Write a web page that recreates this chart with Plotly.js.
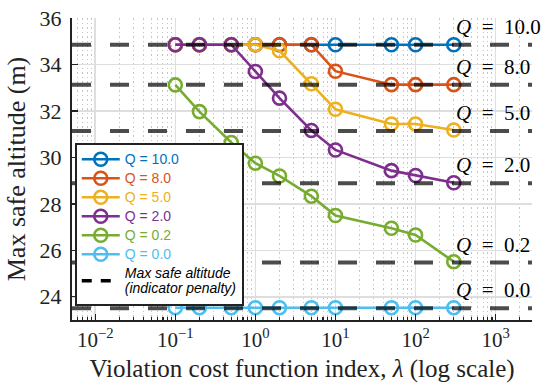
<!DOCTYPE html>
<html>
<head>
<meta charset="utf-8">
<script src="https://cdn.plot.ly/plotly-3.0.1.min.js"></script>
<style>html,body{margin:0;padding:0;background:#fff;} #chart{width:548px;height:383px;}</style>
</head>
<body>
<div id="chart"></div>
<script>
// ---- data ----
const lambda = [0.1, 0.2, 0.5, 1, 2, 5, 10, 50, 100, 300];
const qLabels = ['10.0', '8.0', '5.0', '2.0', '0.2', '0.0'];
const alt_Q10 = [34.85, 34.85, 34.85, 34.85, 34.85, 34.85, 34.85, 34.85, 34.85, 34.85];
const alt_Q8  = [34.85, 34.85, 34.85, 34.85, 34.85, 34.85, 33.71, 33.13, 33.13, 33.13];
const alt_Q5  = [34.85, 34.85, 34.85, 34.85, 34.59, 33.17, 32.07, 31.44, 31.44, 31.18];
const alt_Q2  = [34.85, 34.85, 34.85, 33.70, 32.55, 31.16, 30.32, 29.43, 29.22, 28.91];
const alt_Q02 = [33.12, 31.97, 30.64, 29.75, 29.20, 28.33, 27.50, 26.95, 26.66, 25.51];
const alt_Q0  = [23.53, 23.53, 23.53, 23.53, 23.53, 23.53, 23.53, 23.53, 23.53, 23.53];
const maxSafeAlt = [34.85, 33.13, 31.14, 28.89, 25.47, 23.51];
const xTickVals = [0.01, 0.1, 1, 10, 100, 1000];
const xTickText = ['10<sup>\u22122</sup>', '10<sup>\u22121</sup>', '10<sup>0</sup>', '10<sup>1</sup>', '10<sup>2</sup>', '10<sup>3</sup>'];
const legendNoteLines = ['Max safe altitude', '(indicator penalty)'];

const series = [alt_Q10, alt_Q8, alt_Q5, alt_Q2, alt_Q02, alt_Q0];
const colors = ['#0072BD', '#D95319', '#EDB120', '#7E2F8E', '#77AC30', '#4DBEEE'];
const SERIF = '"Liberation Serif", "DejaVu Serif", serif';

const traces = series.map((ys, i) => ({
  x: lambda, y: ys, type: 'scatter', mode: 'lines+markers',
  name: '<span style="color:' + colors[i] + ';font-size:14px">Q = ' + qLabels[i] + '</span>',
  line: {color: colors[i], width: 2.6},
  marker: {symbol: 'circle-open', size: 13, color: colors[i], line: {width: 2.6, color: colors[i]}}
}));
traces.push({
  x: [null], y: [null], type: 'scatter', mode: 'lines',
  name: '<i>' + legendNoteLines.map(s => '<span style="font-size:14px">' + s + '</span>').join('<br>') + '</i>',
  line: {color: 'black', width: 3.5, dash: '10px,9px'}
});

// minor tick positions (2..9 of each decade)
const minorVals = [];
for (let d = -3; d <= 3; d++) for (let m = 2; m <= 9; m++) minorVals.push(m * Math.pow(10, d));

const shapes = maxSafeAlt.map(v => ({
  type: 'line', xref: 'paper', x0: 0, x1: 1, yref: 'y', y0: v, y1: v, layer: 'above',
  line: {color: 'rgba(0,0,0,0.7)', width: 4, dash: '19px,19px'}
}));

const annotations = maxSafeAlt.map((v, i) => ({
  xref: 'paper', x: 0.831, xanchor: 'left', yref: 'y', y: v, yshift: 18, yanchor: 'middle',
  text: '<i>Q</i>\u2002=\u2002' + qLabels[i], showarrow: false,
  font: {family: SERIF, size: 21, color: 'black'}
}));

const layout = {
  width: 548, height: 383,
  margin: {l: 72, r: 16, t: 18, b: 63},
  paper_bgcolor: 'white', plot_bgcolor: 'white',
  font: {family: SERIF, color: '#222'},
  showlegend: true,
  legend: {
    x: 0.006, y: 0.587, xanchor: 'left', yanchor: 'top',
    bgcolor: 'white', bordercolor: '#222', borderwidth: 2,
    font: {family: '"Liberation Sans", Arial, sans-serif', size: 12, color: 'black'},
    itemwidth: 38,
    tracegroupgap: 0
  },
  xaxis: {
    type: 'log', range: [-2.29, 3.454],
    tickmode: 'array', tickvals: xTickVals, ticktext: xTickText,
    ticks: 'inside', ticklen: 6, tickwidth: 1.3, tickcolor: '#222',
    showline: true, linecolor: '#222', linewidth: 2, mirror: false,
    showgrid: true, gridcolor: '#dedede', gridwidth: 1.5,
    zeroline: false,
    ticklabelstandoff: 0,
    tickfont: {family: SERIF, size: 21, color: '#222'},
    minor: {tickmode: 'array', tickvals: minorVals, ticks: 'inside', ticklen: 3.5, tickwidth: 1.2, tickcolor: '#222',
            showgrid: true, gridcolor: '#c4c4c4', gridwidth: 1, griddash: '1.5px,3px'},
    title: {text: 'Violation cost function index, <i>\u03bb</i> (log scale)', font: {family: SERIF, size: 25, color: '#222'}, standoff: 14}
  },
  yaxis: {
    range: [23, 36], tick0: 0, dtick: 2,
    ticks: 'inside', ticklen: 6, tickwidth: 1.3, tickcolor: '#222',
    showline: true, linecolor: '#222', linewidth: 2, mirror: false,
    showgrid: true, gridcolor: '#dedede', gridwidth: 1.5,
    zeroline: false,
    ticklabelstandoff: 4,
    tickfont: {family: SERIF, size: 22, color: '#222'},
    title: {text: 'Max safe altitude (m)', font: {family: SERIF, size: 26, color: '#222'}, standoff: 6}
  },
  shapes: shapes,
  annotations: annotations
};

Plotly.newPlot('chart', traces, layout, {displayModeBar: false, staticPlot: true});
</script>
</body>
</html>
